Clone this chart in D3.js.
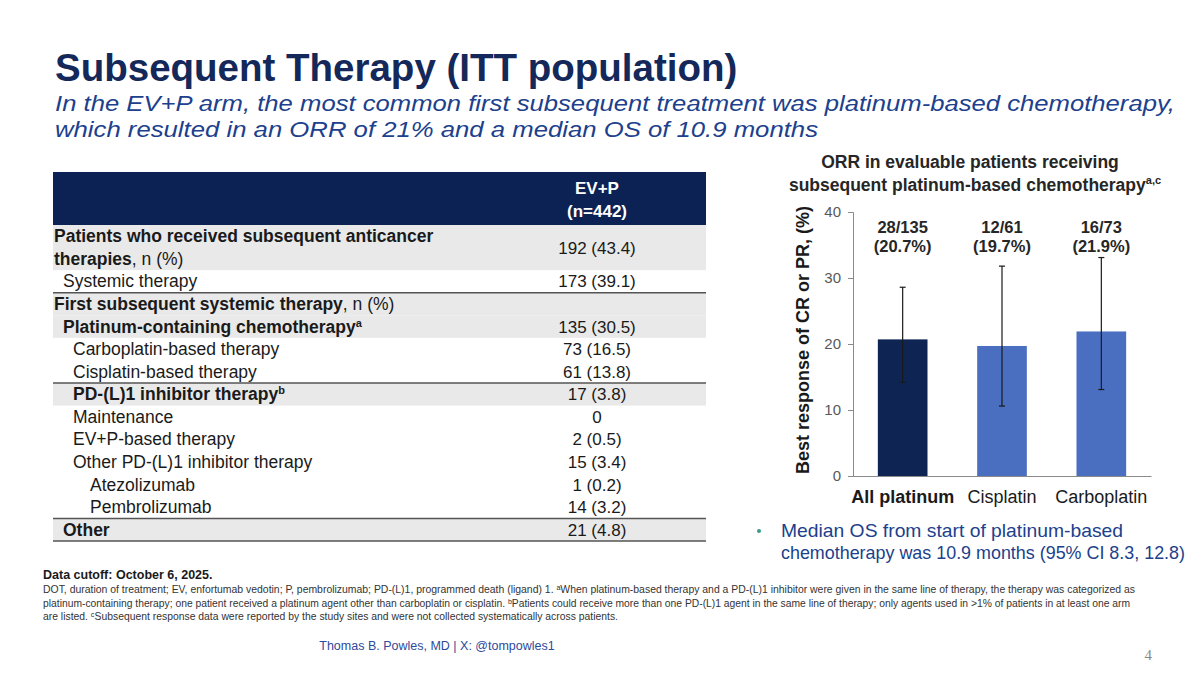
<!DOCTYPE html>
<html>
<head>
<meta charset="utf-8">
<script src="https://cdn.jsdelivr.net/npm/d3@7/dist/d3.min.js"></script>
<style>
  html, body { margin: 0; padding: 0; background: #fff; }
  svg { display: block; font-family: "Liberation Sans", Arial, sans-serif; }
</style>
</head>
<body>
<svg id="slide" width="1200" height="675" viewBox="0 0 1200 675"></svg>
<script>
// ---- table data ----
const rowLabels = [
  "Patients who received subsequent anticancer\ntherapies",
  "Systemic therapy",
  "First subsequent systemic therapy",
  "Platinum-containing chemotherapy",
  "Carboplatin-based therapy",
  "Cisplatin-based therapy",
  "PD-(L)1 inhibitor therapy",
  "Maintenance",
  "EV+P-based therapy",
  "Other PD-(L)1 inhibitor therapy",
  "Atezolizumab",
  "Pembrolizumab",
  "Other"
];
const rowNotes = [", n (%)", "", ", n (%)", "", "", "", "", "", "", "", "", "", ""];
const rowSups = ["", "", "", "a", "", "", "b", "", "", "", "", "", ""];
const rowValues = ["192 (43.4)", "173 (39.1)", "", "135 (30.5)", "73 (16.5)", "61 (13.8)",
  "17 (3.8)", "0", "2 (0.5)", "15 (3.4)", "1 (0.2)", "14 (3.2)", "21 (4.8)"];
// hierarchy of each row: section > group > item > detail (and "sub" = plain level-1 row)
const rowKinds = ["section", "sub", "section", "group", "item", "item",
  "groupItem", "item", "item", "item", "detail", "detail", "group"];
// rows after which a rule is drawn
const ruleAfter = [1, 5, 11, 12];
const armHeader = ["EV+P", "(n=442)"];

// ---- chart data ----
const categories = ["All platinum", "Cisplatin", "Carboplatin"];
const orrValues = [20.7, 19.7, 21.9];
const ciLow = [14.2, 10.6, 13.1];
const ciHigh = [28.6, 31.8, 33.1];
const responders = ["28/135", "12/61", "16/73"];
const yTicks = [0, 10, 20, 30, 40];

const svg = d3.select("#slide");
svg.append("rect").attr("width", 1200).attr("height", 675).attr("fill", "#fff");

const navy = "#0c2254";
const textDark = "#1a1a1a";

/**
 * Title and subtitle
 */
svg.append("text")
  .attr("x", 55).attr("y", 81)
  .attr("font-size", 38.5).attr("font-weight", "bold").attr("fill", "#14285a")
  .text("Subsequent Therapy (ITT population)");

const subtitle = [
  "In the EV+P arm, the most common first subsequent treatment was platinum-based chemotherapy,",
  "which resulted in an ORR of 21% and a median OS of 10.9 months"
];
const subtitleWidths = [1120, 763];
svg.append("g").selectAll("text")
  .data(subtitle)
  .join("text")
  .attr("x", 55)
  .attr("y", (d, i) => 111 + i * 26)
  .attr("font-size", 22.5).attr("font-style", "italic").attr("fill", "#203f8c")
  .attr("textLength", (d, i) => subtitleWidths[i]).attr("lengthAdjust", "spacingAndGlyphs")
  .text(d => d);

/**
 * Table
 */
const tableLeft = 53, tableRight = 706, valueX = 597;
const rowLines = rowLabels.map(d => d.split("\n").length);
const rowStart = d3.cumsum([0].concat(rowLines));
const yRow = d3.scaleLinear().domain([0, d3.sum(rowLines)]).range([225, 541]);

const kindIndent = { section: 54, sub: 63, group: 63, item: 73, groupItem: 73, detail: 90 };
const kindBold = { section: true, group: true, groupItem: true };

const table = svg.append("g");

table.append("rect")
  .attr("x", tableLeft).attr("y", 172)
  .attr("width", tableRight - tableLeft).attr("height", 53)
  .attr("fill", navy);
table.selectAll(".arm")
  .data(armHeader)
  .join("text")
  .attr("class", "arm")
  .attr("x", valueX).attr("y", (d, i) => 194 + i * 23)
  .attr("text-anchor", "middle")
  .attr("font-size", 17).attr("font-weight", "bold").attr("fill", "#fff")
  .text(d => d);

const rows = table.selectAll(".row")
  .data(rowLabels.map((label, i) => ({
    label, i, note: rowNotes[i], sup: rowSups[i], value: rowValues[i], kind: rowKinds[i],
    y0: yRow(rowStart[i]), y1: yRow(rowStart[i + 1])
  })))
  .join("g")
  .attr("class", "row");

rows.filter(d => kindBold[d.kind])
  .append("rect")
  .attr("x", tableLeft).attr("y", d => d.y0)
  .attr("width", tableRight - tableLeft).attr("height", d => d.y1 - d.y0)
  .attr("fill", "#e9e9e9");

const lineH = yRow(1) - yRow(0);
rows.each(function (d) {
  const g = d3.select(this);
  const lines = d.label.split("\n");
  lines.forEach((ln, k) => {
    const t = g.append("text")
      .attr("x", kindIndent[d.kind])
      .attr("y", d.y0 + lineH * k + lineH / 2 + 6)
      .attr("font-size", 17.5).attr("fill", textDark);
    t.append("tspan").attr("font-weight", kindBold[d.kind] ? "bold" : "normal").text(ln);
    if (k === lines.length - 1 && d.note) t.append("tspan").text(d.note);
    if (k === lines.length - 1 && d.sup) {
      t.append("tspan").attr("font-size", 11).attr("font-weight", "bold").attr("dy", -6).text(d.sup);
    }
  });
  g.append("text")
    .attr("x", valueX).attr("y", (d.y0 + d.y1) / 2 + 6)
    .attr("text-anchor", "middle")
    .attr("font-size", 17).attr("fill", textDark)
    .text(d.value);
});

table.selectAll(".rule")
  .data(ruleAfter)
  .join("line")
  .attr("x1", tableLeft).attr("x2", tableRight)
  .attr("y1", i => yRow(rowStart[i + 1])).attr("y2", i => yRow(rowStart[i + 1]))
  .attr("stroke", "#555").attr("stroke-width", 1.5);

/**
 * Bar chart
 */
const chart = svg.append("g");
const x = d3.scaleBand().domain(categories).range([853, 1151]).paddingInner(0.5).paddingOuter(0.25);
const y = d3.scaleLinear().domain([0, 40]).range([476, 212]);

chart.append("text")
  .attr("x", 970).attr("y", 168)
  .attr("text-anchor", "middle")
  .attr("font-size", 17.5).attr("font-weight", "bold").attr("fill", "#262626")
  .text("ORR in evaluable patients receiving");
const t2 = chart.append("text")
  .attr("x", 975).attr("y", 191)
  .attr("text-anchor", "middle")
  .attr("font-size", 17.5).attr("font-weight", "bold").attr("fill", "#262626");
t2.append("tspan").text("subsequent platinum-based chemotherapy");
t2.append("tspan").attr("font-size", 11).attr("dy", -7).text("a,c");

const yAxis = chart.append("g")
  .attr("transform", "translate(853,0)")
  .call(d3.axisLeft(y).tickValues(yTicks).tickSize(5).tickPadding(7));
yAxis.select(".domain").attr("stroke", "#8a8a8a");
yAxis.selectAll(".tick line").attr("stroke", "#8a8a8a");
yAxis.selectAll(".tick text")
  .attr("font-size", 15).attr("fill", "#595959").attr("font-family", "Liberation Sans, Arial, sans-serif");

chart.selectAll(".bar")
  .data(categories)
  .join("rect")
  .attr("class", "bar")
  .attr("x", d => x(d))
  .attr("width", x.bandwidth())
  .attr("y", (d, i) => y(orrValues[i]))
  .attr("height", (d, i) => y(0) - y(orrValues[i]))
  .attr("fill", (d, i) => i === 0 ? "#0e2453" : "#4a6fc1");

const xAxis = chart.append("g")
  .attr("transform", "translate(0,476)")
  .call(d3.axisBottom(x).tickSize(0).tickPadding(14));
xAxis.select(".domain").attr("stroke", "#8a8a8a").attr("stroke-width", 1.2);
xAxis.selectAll(".tick text")
  .attr("font-size", 18).attr("fill", textDark)
  .attr("font-family", "Liberation Sans, Arial, sans-serif")
  .attr("font-weight", (d, i) => i === 0 ? "bold" : "normal");

// error bars
const cx = d => x(d) + x.bandwidth() / 2;
const err = chart.selectAll(".err")
  .data(categories)
  .join("g")
  .attr("class", "err")
  .attr("stroke", "#1a1a1a").attr("stroke-width", 1.2);
err.append("line")
  .attr("x1", cx).attr("x2", cx)
  .attr("y1", (d, i) => y(ciLow[i])).attr("y2", (d, i) => y(ciHigh[i]));
err.append("line")
  .attr("x1", d => cx(d) - 3).attr("x2", d => cx(d) + 3)
  .attr("y1", (d, i) => y(ciLow[i])).attr("y2", (d, i) => y(ciLow[i]));
err.append("line")
  .attr("x1", d => cx(d) - 3).attr("x2", d => cx(d) + 3)
  .attr("y1", (d, i) => y(ciHigh[i])).attr("y2", (d, i) => y(ciHigh[i]));

// response labels above bars
const lab = chart.selectAll(".lab")
  .data(categories)
  .join("text")
  .attr("class", "lab")
  .attr("text-anchor", "middle")
  .attr("font-size", 16.5).attr("font-weight", "bold").attr("fill", "#262626");
lab.append("tspan").attr("x", cx).attr("y", y(40) + 21).text((d, i) => responders[i]);
lab.append("tspan").attr("x", cx).attr("y", y(40) + 40).text((d, i) => `(${orrValues[i].toFixed(1)}%)`);

chart.append("text")
  .attr("transform", "translate(809,340) rotate(-90)")
  .attr("text-anchor", "middle")
  .attr("font-size", 18).attr("font-weight", "bold").attr("fill", textDark)
  .text("Best response of CR or PR, (%)");

/**
 * Bullet
 */
svg.append("circle").attr("cx", 759).attr("cy", 531).attr("r", 2).attr("fill", "#3a9a8c");
const bulletLines = ["Median OS from start of platinum-based", "chemotherapy was 10.9 months (95% CI 8.3, 12.8)"];
const bulletWidths = [342, 404];
svg.append("g").selectAll("text")
  .data(bulletLines)
  .join("text")
  .attr("x", 781).attr("y", (d, i) => 537 + i * 22)
  .attr("font-size", 18.5).attr("fill", "#203f8c")
  .attr("textLength", (d, i) => bulletWidths[i]).attr("lengthAdjust", "spacingAndGlyphs")
  .text(d => d);

/**
 * Footnotes
 */
svg.append("text")
  .attr("x", 43).attr("y", 579)
  .attr("font-size", 12.5).attr("font-weight", "bold").attr("fill", textDark)
  .text("Data cutoff: October 6, 2025.");

const footLines = [
  "DOT, duration of treatment; EV, enfortumab vedotin; P, pembrolizumab; PD-(L)1, programmed death (ligand) 1. \u1d43When platinum-based therapy and a PD-(L)1 inhibitor were given in the same line of therapy, the therapy was categorized as",
  "platinum-containing therapy; one patient received a platinum agent other than carboplatin or cisplatin. \u1d47Patients could receive more than one PD-(L)1 agent in the same line of therapy; only agents used in >1% of patients in at least one arm",
  "are listed. \u1d9cSubsequent response data were reported by the study sites and were not collected systematically across patients."
];
const footWidths = [1092, 1087, 575];
svg.append("g").selectAll("text")
  .data(footLines)
  .join("text")
  .attr("x", 43).attr("y", (d, i) => 593 + i * 13.5)
  .attr("font-size", 10.5).attr("fill", "#333")
  .attr("textLength", (d, i) => footWidths[i]).attr("lengthAdjust", "spacingAndGlyphs")
  .text(d => d);

svg.append("text")
  .attr("x", 437).attr("y", 650)
  .attr("text-anchor", "middle")
  .attr("font-size", 12.5).attr("fill", "#2e4a9a")
  .text("Thomas B. Powles, MD | X: @tompowles1");

svg.append("text")
  .attr("x", 1152).attr("y", 660)
  .attr("text-anchor", "end")
  .attr("font-size", 15).attr("fill", "#888").attr("font-family", "Liberation Serif, serif")
  .text("4");
</script>
</body>
</html>
